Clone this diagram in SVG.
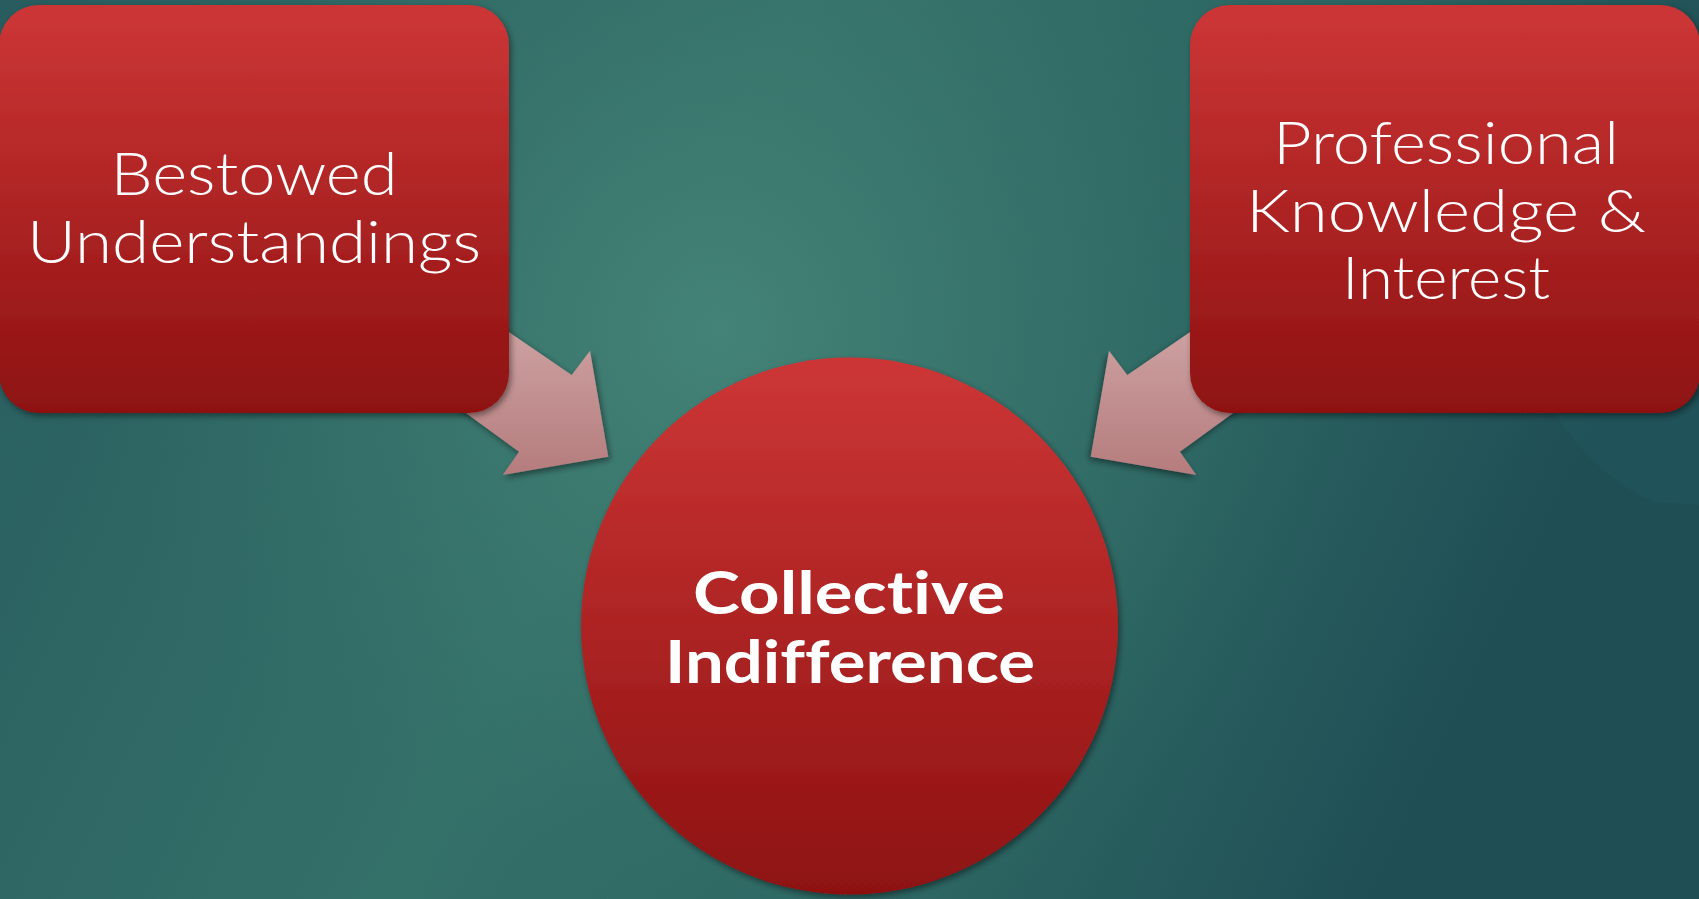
<svg xmlns="http://www.w3.org/2000/svg" width="1699" height="899" viewBox="0 0 1699 899">
  <defs>
    <linearGradient id="bgBase" x1="0" y1="0" x2="1" y2="0.25">
      <stop offset="0" stop-color="#285c5f"/>
      <stop offset="0.45" stop-color="#347169"/>
      <stop offset="0.75" stop-color="#2c6562"/>
      <stop offset="1" stop-color="#1f4e55"/>
    </linearGradient>
    <radialGradient id="bgGlow" cx="720" cy="330" r="650" gradientUnits="userSpaceOnUse">
      <stop offset="0" stop-color="#468579" stop-opacity="0.9"/>
      <stop offset="0.6" stop-color="#3c796f" stop-opacity="0.35"/>
      <stop offset="1" stop-color="#2f6a64" stop-opacity="0"/>
    </radialGradient>
    <linearGradient id="redFill" x1="0" y1="0" x2="0" y2="1">
      <stop offset="0" stop-color="#cd3636"/>
      <stop offset="1" stop-color="#8e1111"/>
    </linearGradient>
    <linearGradient id="arrowFill" x1="0" y1="0" x2="0" y2="1">
      <stop offset="0" stop-color="#d6aeae"/>
      <stop offset="1" stop-color="#b57c7d"/>
    </linearGradient>
    <filter id="shadow" x="-20%" y="-20%" width="140%" height="140%">
      <feDropShadow dx="2" dy="3" stdDeviation="3" flood-color="#000" flood-opacity="0.45"/>
    </filter>
  </defs>
  <style>
    .box { fill: url(#redFill); filter: url(#shadow); }
    .arrow { fill: url(#arrowFill); filter: url(#shadow); }
    .lbl { font-family: Lato, "Liberation Sans", sans-serif; font-weight: 300; font-size: 60px; fill: #ffffff; text-anchor: middle; font-variant-ligatures: none; }
    .lblb { font-family: Lato, "Liberation Sans", sans-serif; font-weight: 700; font-size: 60px; fill: #ffffff; text-anchor: middle; font-variant-ligatures: none; }
  </style>

  <g id="background">
    <rect x="0" y="0" width="1699" height="899" fill="url(#bgBase)"/>
    <rect x="0" y="0" width="1699" height="899" fill="url(#bgGlow)"/>
    <path d="M1555,414 Q1600,480 1654,502 L1699,505 L1699,400 Z" fill="#2a6a70" opacity="0.15"/>
  </g>

  <g id="connectors">
    <polygon class="arrow" points="430,278 571.7,375 590,350.7 608.3,456.7 502.7,475 519,451.7 400,365"/>
    <polygon class="arrow" transform="translate(1699,0) scale(-1,1)" points="430,278 571.7,375 590,350.7 608.3,456.7 502.7,475 519,451.7 400,365"/>
  </g>

  <g id="node-bestowed">
    <rect class="box" x="-1" y="5" width="510" height="408" rx="40" ry="40"/>
    <text class="lbl" x="254" y="195" textLength="287" lengthAdjust="spacingAndGlyphs">Bestowed</text>
    <text class="lbl" x="254" y="263" textLength="454" lengthAdjust="spacingAndGlyphs">Understandings</text>
  </g>

  <g id="node-professional">
    <rect class="box" x="1190" y="5" width="510" height="408" rx="40" ry="40"/>
    <text class="lbl" x="1446" y="164" textLength="346" lengthAdjust="spacingAndGlyphs">Professional</text>
    <text class="lbl" x="1446" y="232" textLength="400" lengthAdjust="spacingAndGlyphs">Knowledge &amp;</text>
    <text class="lbl" x="1446" y="299" textLength="208" lengthAdjust="spacingAndGlyphs">Interest</text>
  </g>

  <g id="node-collective">
    <circle class="box" cx="849.5" cy="626" r="268.5"/>
    <text class="lblb" x="849" y="614" textLength="312" lengthAdjust="spacingAndGlyphs">Collective</text>
    <text class="lblb" x="850" y="683" textLength="370" lengthAdjust="spacingAndGlyphs">Indifference</text>
  </g>
</svg>
